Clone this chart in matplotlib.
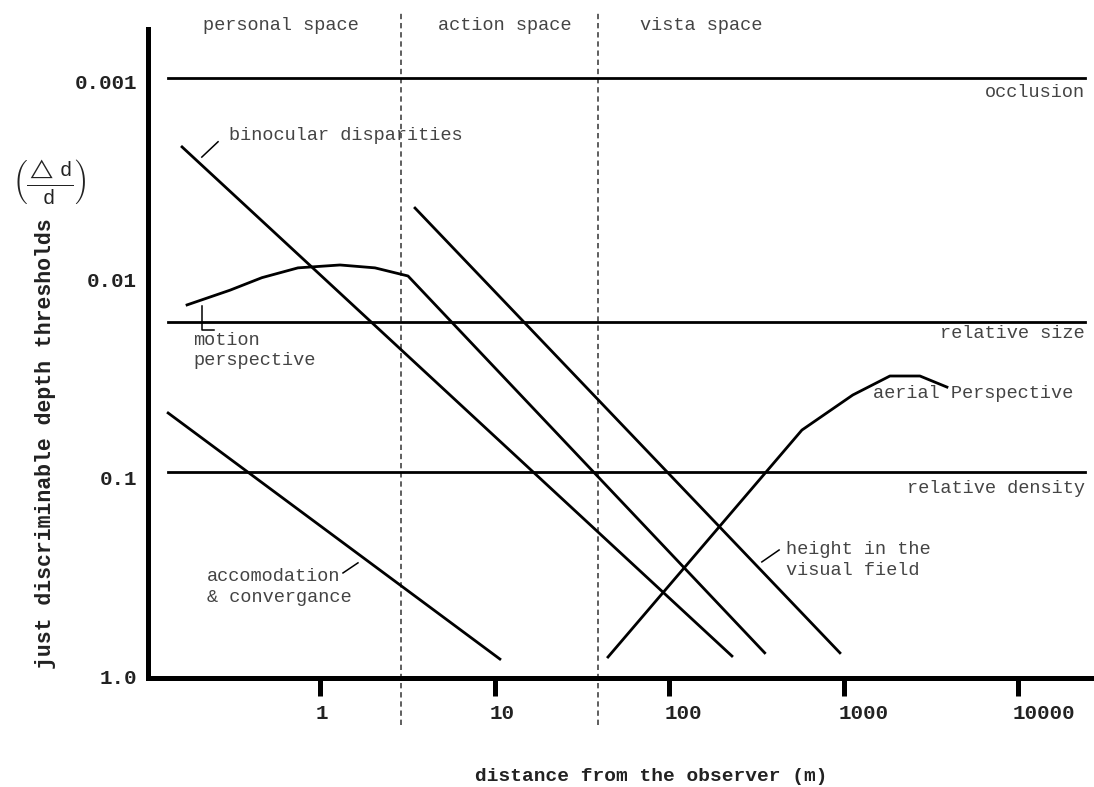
import matplotlib
matplotlib.use('Agg')

import matplotlib.pyplot as plt
from matplotlib.ticker import NullLocator
from matplotlib.transforms import ScaledTranslation

plt.rcParams['font.family'] = ['Liberation Mono', 'DejaVu Sans Mono']
plt.rcParams['mathtext.fontset'] = 'custom'
plt.rcParams['mathtext.rm'] = 'Liberation Mono'
plt.rcParams['mathtext.it'] = 'Liberation Mono'

# ------------ data (distance in m, threshold delta d / d) ---------------
x_ticks = [1, 10, 100, 1000, 10000]
x_tick_labels = ['1', '10', '100', '1000', '10000']
y_ticks = [0.001, 0.01, 0.1, 1.0]
y_tick_labels = ['0.001', '0.01', '0.1', '1.0']

space_bounds = [2.9, 39.1]
space_names = ['personal space', 'action space', 'vista space']
space_label_x = [0.212, 4.72, 67.9]

flat_x = [0.134, 24200]
flat_names = ['occlusion', 'relative size', 'relative density']
flat_y = [0.001, 0.017, 0.098]
flat_label_y = [0.00118, 0.0196, 0.119]

binocular_x = [0.161, 229]
binocular_y = [0.00223, 0.83]

motion_x = [0.172, 0.303, 0.462, 0.744, 1.296, 2.056, 3.18, 353]
motion_y = [0.0140, 0.0118, 0.0102, 0.0091, 0.0088, 0.0091, 0.0100, 0.80]

height_x = [3.49, 953]
height_y = [0.00454, 0.80]

accom_x = [0.134, 10.7]
accom_y = [0.0492, 0.86]

aerial_x = [44.6, 577, 1130, 1845, 2742, 3917]
aerial_y = [0.84, 0.060, 0.0399, 0.0320, 0.0320, 0.0364]

# label text, label position, leader line
cue_labels = ['binocular disparities', 'motion\nperspective',
              'accomodation\n& convergance', 'height in the\nvisual field',
              'aerial Perspective']
cue_label_x = [0.299, 0.186, 0.2234, 467, 1476]
cue_label_y = [0.00196, 0.0238, 0.372, 0.272, 0.0394]
leader_x = [[0.209, 0.259], [0.209, 0.209, 0.2455], [1.348, 1.643], [340, 427], []]
leader_y = [[0.00251, 0.00210], [0.0142, 0.01876, 0.01876], [0.316, 0.281], [0.278, 0.242], []]

# ------------ figure ---------------
fig = plt.figure(figsize=(10.94, 7.87), dpi=100)
ax = fig.add_axes([148 / 1094, 109 / 787, 946 / 1094, 649 / 787])

ax.set_xscale('log')
ax.set_yscale('log')
ax.set_xlim(0.1027, 27300)
ax.set_ylim(1.072, 0.000566)

for s in ['top', 'right']:
    ax.spines[s].set_visible(False)
for s in ['left', 'bottom']:
    ax.spines[s].set_linewidth(3.6)

ax.set_xticks(x_ticks)
ax.set_xticklabels(x_tick_labels, ha='left', fontweight='bold')
ax.set_yticks(y_ticks)
ax.set_yticklabels(y_tick_labels, fontweight='bold')
ax.xaxis.set_minor_locator(NullLocator())
ax.yaxis.set_minor_locator(NullLocator())
ax.tick_params(axis='x', length=13, width=3.6, pad=6, labelsize=15, labelcolor='#222222')
ax.tick_params(axis='y', length=0, pad=8, labelsize=15, labelcolor='#222222')

offset = ScaledTranslation(-5 / 100, 0, fig.dpi_scale_trans)
for label in ax.xaxis.get_majorticklabels():
    label.set_transform(label.get_transform() + offset)
yoffset = ScaledTranslation(0, -4 / 100, fig.dpi_scale_trans)
for label in ax.yaxis.get_majorticklabels():
    label.set_transform(label.get_transform() + yoffset)

ax.set_xlabel('distance from the observer (m)', fontsize=14, fontweight='bold', color='#222222')
ax.xaxis.set_label_coords(0.532, -0.139)
ax.set_ylabel('just discriminable depth thresholds', fontsize=15.5, fontweight='bold', color='#222222')
ax.yaxis.set_label_coords(-0.097, 0.361)
fig.text(49 / 1094, 1 - 181 / 787, r'$\left(\frac{\triangle\ \mathrm{d}}{\mathrm{d}}\right)$',
         fontsize=21, ha='center', va='center', color='#222222')

# space boundaries
for b in space_bounds:
    ax.axvline(b, ymin=-0.072, ymax=1.03, color='#333333', lw=1.1,
               ls=(0, (3.5, 2.5)), clip_on=False)
for name, sx in zip(space_names, space_label_x):
    ax.text(sx, 1.006, name, transform=ax.get_xaxis_transform(),
            ha='left', va='center', fontsize=13.4, color='#444444')

# distance independent cues
for name, fy, ly in zip(flat_names, flat_y, flat_label_y):
    ax.plot(flat_x, [fy, fy], color='black', lw=2.0)
    ax.text(flat_x[1], ly, name, ha='right', va='center',
            fontsize=13.4, color='#444444')

# distance dependent cues
ax.plot(binocular_x, binocular_y, color='black', lw=2.0)
ax.plot(motion_x, motion_y, color='black', lw=2.0)
ax.plot(height_x, height_y, color='black', lw=2.0)
ax.plot(accom_x, accom_y, color='black', lw=2.0)
ax.plot(aerial_x, aerial_y, color='black', lw=2.0)

for text, lx, ly, kx, ky in zip(cue_labels, cue_label_x, cue_label_y, leader_x, leader_y):
    ax.text(lx, ly, text, ha='left', va='center', fontsize=13.4,
            color='#444444', linespacing=1.25)
    if kx:
        ax.plot(kx, ky, color='black', lw=1.1)

fig.savefig('out.png', dpi=100)
